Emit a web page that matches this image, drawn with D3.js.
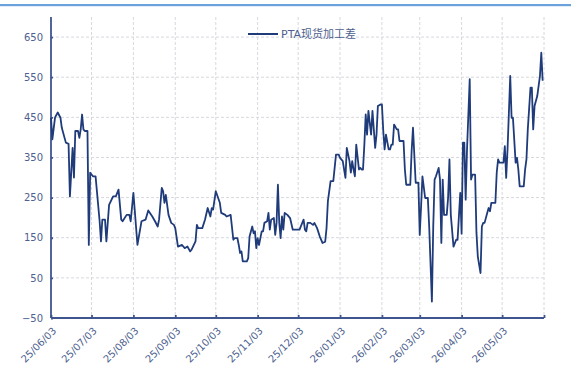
<!DOCTYPE html>
<html>
<head>
<meta charset="utf-8">
<script src="https://cdn.jsdelivr.net/npm/d3@7"></script>
<style>
  html, body { margin: 0; padding: 0; background: #fff; }
  svg { display: block; }
  text { font-family: "DejaVu Sans", Verdana, sans-serif; }
</style>
</head>
<body>
<svg id="chart" width="571" height="372"></svg>
<script>
// PTA spot processing margin, daily
const dates = [
  "2025-06-03","2025-06-04","2025-06-06","2025-06-08","2025-06-10","2025-06-11","2025-06-14","2025-06-16","2025-06-17","2025-06-19",
  "2025-06-20","2025-06-21","2025-06-23","2025-06-24","2025-06-25","2025-06-26","2025-06-27","2025-06-28","2025-06-30","2025-07-01",
  "2025-07-02","2025-07-04","2025-07-06","2025-07-09","2025-07-10","2025-07-11","2025-07-13","2025-07-14","2025-07-16","2025-07-19",
  "2025-07-21","2025-07-23","2025-07-25","2025-07-26","2025-07-29","2025-07-31","2025-08-01","2025-08-03","2025-08-06","2025-08-09",
  "2025-08-12","2025-08-14","2025-08-17","2025-08-19","2025-08-21","2025-08-22","2025-08-24","2025-08-25","2025-08-26","2025-08-27",
  "2025-08-29","2025-08-31","2025-09-02","2025-09-03","2025-09-05","2025-09-08","2025-09-10","2025-09-12","2025-09-14","2025-09-15",
  "2025-09-18","2025-09-19","2025-09-20","2025-09-23","2025-09-25","2025-09-27","2025-09-29","2025-09-30","2025-10-01","2025-10-03",
  "2025-10-06","2025-10-07","2025-10-10","2025-10-11","2025-10-14","2025-10-16","2025-10-17","2025-10-19","2025-10-20","2025-10-21",
  "2025-10-22","2025-10-23","2025-10-26","2025-10-27","2025-10-28","2025-10-30","2025-10-31","2025-11-01","2025-11-02","2025-11-03",
  "2025-11-04","2025-11-05","2025-11-06","2025-11-07","2025-11-08","2025-11-10","2025-11-11","2025-11-12","2025-11-13","2025-11-15",
  "2025-11-16","2025-11-17","2025-11-18","2025-11-19","2025-11-20","2025-11-21","2025-11-22","2025-11-23","2025-11-25","2025-11-27",
  "2025-11-29","2025-12-02","2025-12-04","2025-12-07","2025-12-08","2025-12-09","2025-12-10","2025-12-12","2025-12-14","2025-12-15",
  "2025-12-17","2025-12-19","2025-12-21","2025-12-23","2025-12-24","2025-12-25","2025-12-27","2025-12-29","2025-12-31","2026-01-02",
  "2026-01-03","2026-01-05","2026-01-07","2026-01-08","2026-01-10","2026-01-11","2026-01-12","2026-01-13","2026-01-14","2026-01-15",
  "2026-01-17","2026-01-18","2026-01-19","2026-01-20","2026-01-21","2026-01-22","2026-01-23","2026-01-24","2026-01-26","2026-01-27",
  "2026-01-29","2026-01-30","2026-01-31","2026-02-02","2026-02-03","2026-02-04","2026-02-05","2026-02-06","2026-02-08","2026-02-09",
  "2026-02-10","2026-02-11","2026-02-12","2026-02-14","2026-02-15","2026-02-16","2026-02-19","2026-02-20","2026-02-21","2026-02-24",
  "2026-02-25","2026-02-26","2026-02-28","2026-03-02","2026-03-03","2026-03-04","2026-03-05","2026-03-07","2026-03-09","2026-03-10",
  "2026-03-12","2026-03-13","2026-03-14","2026-03-15","2026-03-17","2026-03-18","2026-03-19","2026-03-20","2026-03-21","2026-03-23",
  "2026-03-24","2026-03-25","2026-03-26","2026-03-28","2026-03-30","2026-03-31","2026-04-02","2026-04-03","2026-04-04","2026-04-05",
  "2026-04-06","2026-04-07","2026-04-09","2026-04-10","2026-04-11","2026-04-13","2026-04-14","2026-04-15","2026-04-17","2026-04-18",
  "2026-04-19","2026-04-20","2026-04-22","2026-04-23","2026-04-24","2026-04-25","2026-04-28","2026-04-29","2026-04-30","2026-05-01",
  "2026-05-04","2026-05-05","2026-05-06","2026-05-07","2026-05-09","2026-05-10","2026-05-11","2026-05-13","2026-05-14","2026-05-15",
  "2026-05-16","2026-05-19","2026-05-20","2026-05-21","2026-05-22","2026-05-24","2026-05-25","2026-05-26","2026-05-27","2026-05-29",
  "2026-05-31","2026-06-01","2026-06-02"
];

const margin = [
  449,395,450,462,449,424,387,384,253,374,
  300,416,416,399,420,457,420,416,416,132,
  312,303,303,191,141,195,195,141,232,253,
  253,270,195,191,207,207,191,262,132,191,
  195,218,203,191,178,195,274,266,237,257,
  207,187,182,174,128,132,124,128,116,120,
  141,182,174,174,195,224,203,224,220,266,
  237,212,207,203,207,145,149,149,132,112,
  116,91,91,99,153,178,161,166,124,149,
  132,149,166,166,187,191,212,170,195,199,
  157,187,282,187,149,203,170,212,207,199,
  170,170,170,195,170,166,187,187,182,187,
  174,153,137,140,174,241,291,291,357,357,
  349,341,299,374,341,312,341,320,303,382,
  320,324,320,320,382,457,407,466,407,466,
  374,407,478,482,482,416,370,407,370,370,
  382,382,432,420,420,391,391,320,282,282,
  366,424,287,287,157,228,303,249,249,178,
  -9,178,295,303,324,295,137,295,207,207,
  250,345,207,128,145,145,262,160,387,387,
  245,370,545,295,307,307,162,103,62,178,
  187,187,212,224,216,237,237,312,345,337,
  337,378,299,370,553,449,449,337,349,320,
  278,278,320,345,420,524,524,420,478,503,
  553,611,541
];

const seriesName = "PTA现货加工差";
const yTicks = [-50, 50, 150, 250, 350, 450, 550, 650];
const xTicks = [
  "2025-06-03","2025-07-03","2025-08-03","2025-09-03","2025-10-03","2025-11-03",
  "2025-12-03","2026-01-03","2026-02-03","2026-03-03","2026-04-03","2026-05-03","2026-06-03"
];

const parse = d3.timeParse("%Y-%m-%d");
const fmt = d3.timeFormat("%y/%m/%d");
const data = dates.map((d, i) => ({ date: parse(d), value: margin[i] }));

const svg = d3.select("#chart");
const W = 571, H = 372;
const plot = { left: 51, right: 544, top: 17, bottom: 318 };

const navy = "#1f3b7a";
const axisColor = "#3f5590";
const labelColor = "#4e5f8f";
const gridColor = "#d6d8de";

// header rule
svg.append("rect")
  .attr("x", 0).attr("y", 4).attr("width", W).attr("height", 2.2)
  .attr("fill", "#6aa3dc");

const x = d3.scaleTime()
  .domain([parse(xTicks[0]), parse(xTicks[xTicks.length - 1])])
  .range([plot.left, plot.right]);

const y = d3.scaleLinear()
  .domain([-50, 700])
  .range([plot.bottom, plot.top]);

// horizontal grid
svg.append("g")
  .selectAll("line")
  .data(yTicks.filter(v => v !== -50))
  .join("line")
  .attr("x1", plot.left).attr("x2", plot.right)
  .attr("y1", d => y(d)).attr("y2", d => y(d))
  .attr("stroke", gridColor).attr("stroke-width", 1)
  .attr("stroke-dasharray", "3,2");

// vertical grid
svg.append("g")
  .selectAll("line")
  .data(xTicks.slice(1).map(parse))
  .join("line")
  .attr("x1", d => x(d)).attr("x2", d => x(d))
  .attr("y1", plot.top).attr("y2", plot.bottom)
  .attr("stroke", gridColor).attr("stroke-width", 1)
  .attr("stroke-dasharray", "3,2");

// y axis
const yAxis = d3.axisLeft(y)
  .tickValues(yTicks)
  .tickSize(-2)
  .tickPadding(8)
  .tickFormat(d3.format("d"));

const gy = svg.append("g")
  .attr("transform", `translate(${plot.left},0)`)
  .call(yAxis);
gy.select(".domain")
  .attr("d", `M0,${plot.top}V${plot.bottom}`)
  .attr("stroke", axisColor).attr("stroke-width", 1.8);
gy.selectAll(".tick line").attr("stroke", axisColor).attr("stroke-width", 1.8);
gy.selectAll(".tick text")
  .attr("fill", labelColor)
  .style("font-size", "10px");

// x axis
const xAxis = d3.axisBottom(x)
  .tickValues(xTicks.map(parse))
  .tickSize(-3)
  .tickFormat(fmt);

const gx = svg.append("g")
  .attr("transform", `translate(0,${plot.bottom})`)
  .call(xAxis);
gx.select(".domain")
  .attr("d", `M${plot.left},0H${plot.right}`)
  .attr("stroke", axisColor).attr("stroke-width", 1.8);
gx.selectAll(".tick line").attr("stroke", axisColor).attr("stroke-width", 1.8);
gx.selectAll(".tick text")
  .attr("fill", labelColor)
  .style("font-size", "10px")
  .attr("text-anchor", "end")
  .attr("y", 0)
  .attr("dy", "0.35em")
  .attr("transform", "translate(3,11) rotate(-45)");
// the closing tick carries no label
gx.selectAll(".tick").filter((d, i) => i === xTicks.length - 1).select("text").remove();

// series line
const line = d3.line()
  .x(d => x(d.date))
  .y(d => y(d.value));

svg.append("path")
  .datum(data)
  .attr("fill", "none")
  .attr("stroke", navy)
  .attr("stroke-width", 1.8)
  .attr("stroke-linejoin", "round")
  .attr("d", line);

// legend
const lg = svg.append("g").attr("transform", "translate(248,34)");
lg.append("line")
  .attr("x1", 0).attr("x2", 30).attr("y1", 0).attr("y2", 0)
  .attr("stroke", navy).attr("stroke-width", 2);
lg.append("text")
  .attr("x", 33).attr("y", 0).attr("dy", "0.35em")
  .attr("fill", labelColor)
  .style("font-size", "11px")
  .style("font-family", "'DejaVu Sans', 'Noto Sans CJK SC', sans-serif")
  .text(seriesName);
</script>
</body>
</html>
